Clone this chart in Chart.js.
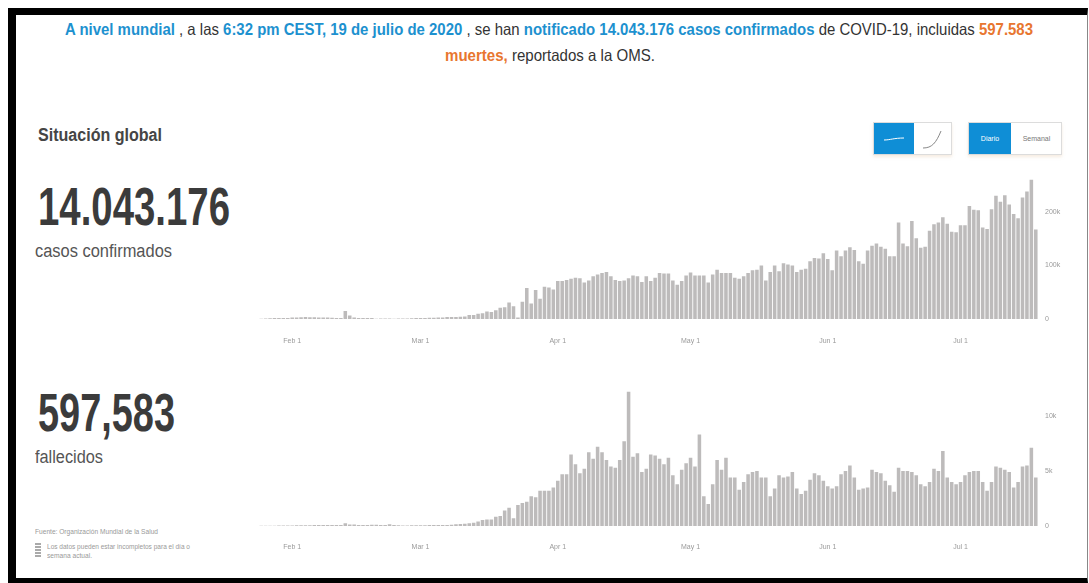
<!DOCTYPE html>
<html><head><meta charset="utf-8">
<script src="https://cdn.jsdelivr.net/npm/chart.js@4.4.1/dist/chart.umd.min.js"></script>
<style>
html,body{margin:0;padding:0;background:#fff;width:1089px;height:583px;overflow:hidden;font-family:"Liberation Sans",Arial,sans-serif;}
#frame{position:absolute;left:8px;top:8px;width:1080px;height:575px;box-sizing:border-box;border-left:8px solid #000;border-top:7px solid #000;border-bottom:5px solid #000;border-right:1px solid #888;}
.t{position:absolute;white-space:nowrap;line-height:1;transform-origin:0 0;display:inline-block;}
.b{color:#1d91cf;font-weight:bold;}
.o{color:#e8762f;font-weight:bold;}
.hd{font-size:16.5px;color:#333;}
.btn{position:absolute;top:122px;height:33px;box-sizing:border-box;border:1px solid #dcdcdc;background:#fff;box-shadow:0 2px 3px rgba(230,200,170,0.35);}
.btn .on{position:absolute;left:0;top:0;bottom:0;background:#0f8ed6;}
.lbl{position:absolute;top:0;bottom:0;display:flex;align-items:center;justify-content:center;font-size:7px;}
canvas{position:absolute;}
</style></head>
<body>
<div id="frame"></div>

<div class="t hd" id="h1" style="top:21px;"><span class="b">A nivel mundial</span> , a las <span class="b">6:32 pm CEST, 19 de julio de 2020</span> , se han <span class="b">notificado 14.043.176 casos confirmados</span> de COVID-19, incluidas <span class="o">597.583</span></div>
<div class="t hd" id="h2" style="top:46.5px;"><span class="o">muertes,</span> reportados a la OMS.</div>

<div class="t" id="sg" style="left:38px;top:126px;font-size:18.7px;font-weight:bold;color:#454545;">Situación global</div>
<div class="t" id="n1" style="left:38px;top:180px;font-size:53px;font-weight:bold;color:#3b3b3b;">14.043.176</div>
<div class="t" id="c1" style="left:35px;top:242px;font-size:18px;color:#555;">casos confirmados</div>
<div class="t" id="n2" style="left:38px;top:386px;font-size:53px;font-weight:bold;color:#3b3b3b;">597,583</div>
<div class="t" id="c2" style="left:35px;top:448px;font-size:18px;color:#555;">fallecidos</div>

<div class="t" id="f1" style="left:35px;top:528px;font-size:7px;color:#999;">Fuente: Organización Mundial de la Salud</div>
<div style="position:absolute;left:35px;top:543px;width:6px;height:15px;background:repeating-linear-gradient(#aaa 0 2px,#fff 2px 3px);"></div>
<div class="t" id="f2" style="left:47px;top:542.6px;font-size:7px;color:#999;">Los datos pueden estar incompletos para el día o</div>
<div class="t" id="f3" style="left:47px;top:552px;font-size:7px;color:#999;">semana actual.</div>

<div class="btn" style="left:873px;width:79px;">
  <div class="on" style="width:40px;">
    <svg width="40" height="31" style="position:absolute;left:0;top:0"><path d="M10 17 C16 17,20 15,30 15" stroke="#fff" stroke-width="1" fill="none"/></svg>
  </div>
  <svg width="39" height="31" style="position:absolute;left:40px;top:0"><path d="M9 25 C18 25,22 20,27 8" stroke="#888" stroke-width="1" fill="none"/></svg>
</div>
<div class="btn" style="left:968px;width:94px;">
  <div class="on" style="width:42px;"><div class="lbl" style="left:0;width:42px;color:#fff;">Diario</div></div>
  <div class="lbl" style="left:42px;width:51px;color:#777;">Semanal</div>
</div>

<canvas id="cCases" width="819" height="189" style="left:259px;top:160px;"></canvas>
<canvas id="cDeaths" width="819" height="186" style="left:259px;top:370px;"></canvas>

<script>
// Daily confirmed cases (thousands), 25 Jan 2020 .. 18 Jul 2020
const casesJan = [0.7,0.8,1.4,1.7,1.7,2.0,2.1];
const casesFeb = [2.6,2.8,3.2,3.7,3.2,3.4,2.7,2.7,3.0,2.5,2.0,2.0,15.1,6.4,2.6,2.1,2.0,1.9,1.8,0.6,0.9,1.0,0.8,0.7,0.9,0.8,1.1,1.3,1.8];
const casesMar = [1.9,1.9,2.2,2.3,2.8,2.9,3.7,3.8,3.9,4.2,4.6,7.3,7.5,9.7,10.9,13.9,13.0,16.5,21.0,22.0,31.0,24.0,3.0,32.0,58.0,29.0,54.0,38.0,60.0,59.0,55.0];
const casesApr = [71,71,73,75,77,76,68,72,80,83,86,88,80,73,71,72,76,81,80,69,80,71,77,86,85,85,72,64,71,81];
const casesMay = [87,81,81,81,68,83,92,86,86,86,77,75,80,86,91,92,100,72,88,100,89,104,102,100,88,92,94,108,114,113,123];
const casesJun = [112,91,128,117,128,134,129,108,103,128,137,141,135,131,117,117,180,141,136,183,151,133,135,165,177,180,190,178,163,162];
const casesJul = [175,175,211,204,203,171,168,205,230,219,231,214,196,188,227,238,260,167];

// Daily deaths (thousands), same days
const deathsJan = [0.02,0.02,0.03,0.03,0.04,0.04,0.05];
const deathsFeb = [0.05,0.06,0.06,0.07,0.07,0.08,0.09,0.1,0.1,0.1,0.1,0.1,0.25,0.14,0.14,0.1,0.1,0.1,0.12,0.12,0.1,0.1,0.15,0.1,0.07,0.05,0.05,0.06,0.06];
const deathsMar = [0.06,0.07,0.08,0.08,0.1,0.1,0.1,0.12,0.15,0.18,0.2,0.25,0.3,0.4,0.55,0.6,0.6,0.85,0.9,1.4,1.65,0.7,1.9,2.1,2.2,2.7,2.6,3.2,3.2,3.2,3.5];
const deathsApr = [4.1,4.7,4.7,6.5,5.6,4.8,5.2,6.7,6.1,7.2,6.7,6.0,5.4,5.3,6.0,7.7,12.2,6.3,6.6,4.9,5.2,6.5,6.4,6.1,5.6,6.2,4.6,3.8,5.1,5.7];
const deathsMay = [6.2,5.4,8.3,2.7,2.0,3.8,6.0,5.1,6.2,4.4,4.4,3.3,4.0,4.7,4.9,5.0,4.4,4.4,2.7,3.4,4.6,4.4,4.5,4.9,3.4,2.9,3.2,4.2,4.8,4.6,4.1];
const deathsJun = [3.6,3.4,3.6,4.7,5.0,5.5,4.4,3.3,3.4,3.5,5.1,4.9,4.8,4.1,3.7,3.1,5.3,5.0,5.0,4.9,4.6,3.8,3.6,4.0,5.2,5.0,6.8,4.4,4.0,3.8];
const deathsJul = [4.0,4.6,4.9,5.0,5.0,4.0,3.2,4.0,5.4,5.3,5.1,4.9,3.5,4.0,5.4,5.5,7.1,4.4];

const casesK = [].concat(casesJan,casesFeb,casesMar,casesApr,casesMay,casesJun,casesJul);
const deathsK = [].concat(deathsJan,deathsFeb,deathsMar,deathsApr,deathsMay,deathsJun,deathsJul);

const monthNames = ['Jan','Feb','Mar','Apr','May','Jun','Jul'];
const startDay = Date.UTC(2020,0,25);
const categories = casesK.map((_, i) => { const d = new Date(startDay + i*86400000); return monthNames[d.getUTCMonth()] + ' ' + d.getUTCDate(); });
const xTickLabels = ['Feb 1','Mar 1','Apr 1','May 1','Jun 1','Jul 1'];
const casesTicks = [0,100,200];
const deathsTicks = [0,5,10];

// fit text widths to the reference layout
function fitW(id, w, center) {
  const el = document.getElementById(id);
  const nat = el.getBoundingClientRect().width;
  el.style.transform = 'scaleX(' + (w/nat) + ')';
  if (center !== undefined) el.style.left = (center - w/2) + 'px';
}
fitW('h1', 968, 549);
fitW('h2', 210, 550);
fitW('sg', 124); fitW('n1', 192); fitW('c1', 137); fitW('n2', 137); fitW('c2', 68);
fitW('f1', 123); fitW('f2', 143); fitW('f3', 45);

function makeChart(id, values, yMax, yTicks, xPad) {
  return new Chart(document.getElementById(id), {
    type: 'bar',
    data: { labels: categories, datasets: [{ data: values, backgroundColor: '#bdbbbb', borderWidth: 0, barPercentage: 0.8, categoryPercentage: 1.0 }] },
    options: {
      responsive: false, animation: false,
      layout: { padding: { top: 10, left: 0, right: 0, bottom: 0 } },
      plugins: { legend: { display: false }, tooltip: { enabled: false } },
      scales: {
        x: {
          grid: { display: false, drawTicks: true, tickLength: xPad }, border: { display: false },
          ticks: { autoSkip: false, maxRotation: 0, minRotation: 0, padding: 0,
            color: '#9a9a9a', font: { family: 'Liberation Sans', size: 7 },
            callback: (v, i) => xTickLabels.includes(categories[i]) ? categories[i] : '' },
          afterFit: s => { s.height = 30; }
        },
        y: {
          position: 'right', min: 0, max: yMax,
          grid: { display: false, drawTicks: false }, border: { display: false },
          ticks: { padding: 7, color: '#9a9a9a', font: { family: 'Liberation Sans', size: 7 },
            callback: v => v === 0 ? '0' : v + 'k' },
          afterBuildTicks: s => { s.ticks = yTicks.map(v => ({ value: v })); },
          afterFit: s => { s.width = 40; }
        }
      }
    }
  });
}
makeChart('cCases', casesK, 276, casesTicks, 18);
makeChart('cDeaths', deathsK, 13.15, deathsTicks, 17);
</script>
</body></html>
